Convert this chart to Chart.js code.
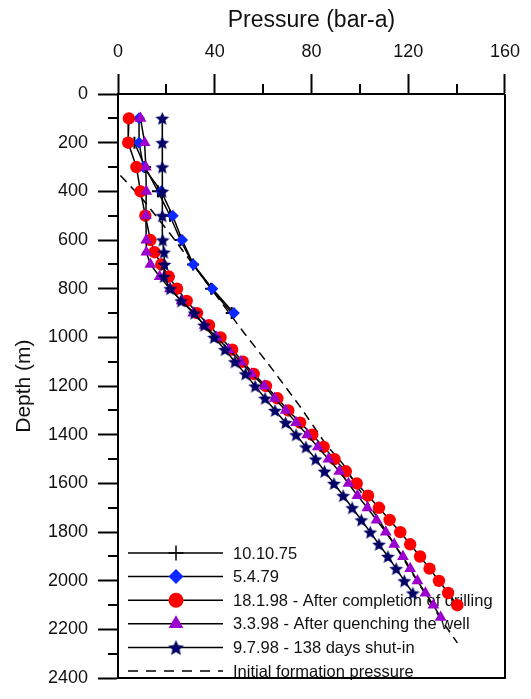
<!DOCTYPE html>
<html>
<head>
<meta charset="utf-8">
<script src="https://cdn.jsdelivr.net/npm/chart.js@4.4.1/dist/chart.umd.min.js"></script>
<style>
  html, body { margin: 0; padding: 0; background: #fff; }
  canvas { display: block; }
</style>
</head>
<body>
<canvas id="chart" width="531" height="699"></canvas>
<script>
// Well pressure surveys: depth (m) and pressure (bar-a)
const depth1975 = [200, 300, 400, 500, 600, 700, 800, 900];
const pres1975  = [6.8, 11.2, 16.5, 21.5, 25.8, 31.0, 38.5, 47.0];

const depth1979 = [100, 200, 300, 400, 500, 600, 700, 800, 900];
const pres1979  = [8.7, 8.7, 10.5, 17.9, 22.6, 26.5, 31.2, 39.0, 47.9];

const depthJan98 = [100, 200, 300, 400, 500, 600, 650, 700, 750, 800, 850, 900, 950, 1000,
  1050, 1100, 1150, 1200, 1250, 1300, 1350, 1400, 1450, 1500, 1550, 1600, 1650, 1700,
  1750, 1800, 1850, 1900, 1950, 2000, 2050, 2100];
const presJan98  = [4.5, 4.2, 7.6, 9.3, 11.3, 13.4, 15.1, 17.9, 21.0, 24.4, 28.4, 32.7, 37.6, 42.4,
  47.2, 51.6, 56.1, 61.2, 65.9, 70.4, 75.3, 80.3, 85.0, 89.5, 94.2, 98.7, 103.4, 107.9,
  112.3, 116.7, 120.8, 124.9, 128.8, 132.7, 136.5, 140.3];

const depthMar98 = [100, 200, 300, 400, 500, 600, 650, 700, 750, 800, 850, 900, 950, 1000,
  1050, 1100, 1150, 1200, 1250, 1300, 1350, 1400, 1450, 1500, 1550, 1600, 1650, 1700,
  1750, 1800, 1850, 1900, 1950, 2000, 2050, 2100, 2150];
const presMar98  = [9.3, 11.0, 11.5, 11.7, 11.5, 11.7, 11.7, 13.4, 17.2, 21.5, 26.3, 31.1, 35.8, 40.8,
  45.7, 50.8, 55.2, 60.5, 64.8, 69.3, 73.6, 78.2, 82.6, 87.0, 91.5, 95.3, 99.0, 103.1,
  106.9, 110.7, 114.2, 117.8, 120.8, 123.8, 127.1, 130.4, 133.4];

const depthJul98 = [100, 200, 300, 400, 500, 600, 650, 700, 750, 800, 850, 900, 950, 1000,
  1050, 1100, 1150, 1200, 1250, 1300, 1350, 1400, 1450, 1500, 1550, 1600, 1650, 1700,
  1750, 1800, 1850, 1900, 1950, 2000, 2050];
const presJul98  = [18.3, 18.3, 18.3, 18.3, 18.3, 18.5, 19.0, 19.2, 19.0, 21.6, 26.1, 31.6, 35.6, 39.7,
  44.2, 48.3, 52.7, 56.7, 60.8, 64.9, 69.3, 73.6, 77.7, 81.7, 85.4, 89.3, 93.1, 96.8,
  100.6, 104.3, 107.9, 111.6, 115.0, 118.4, 121.9];

const depthInit = [335, 430, 580, 740, 980, 1120, 1280, 1440, 1520, 1830, 2150, 2255];
const presInit  = [1.0, 10, 22, 34, 52, 63, 75, 86, 93, 113, 133, 140.3];

const seriesLabels = [
  '10.10.75',
  '5.4.79',
  '18.1.98 - After completion of drilling',
  '3.3.98 - After quenching the well',
  '9.7.98 - 138 days shut-in',
  'Initial formation pressure'
];

const pressureTicks = [0, 40, 80, 120, 160];
const depthTicks = [0, 200, 400, 600, 800, 1000, 1200, 1400, 1600, 1800, 2000, 2200, 2400];

const FONT = "'Liberation Sans', Arial, Helvetica, sans-serif";

function pts(depths, pres) {
  return depths.map((d, i) => ({ x: pres[i], y: d }));
}

// filled five-point star used as a point style
function makeStar(R, color) {
  const pad = 2;
  const c = document.createElement('canvas');
  c.width = c.height = Math.ceil(2 * R + 2 * pad);
  const g = c.getContext('2d');
  const cx = c.width / 2, cy = c.height / 2 + R * 0.1;
  const r = R * 0.45;
  g.beginPath();
  for (let k = 0; k < 10; k++) {
    const a = -Math.PI / 2 + k * Math.PI / 5;
    const rad = k % 2 === 0 ? R : r;
    g.lineTo(cx + Math.cos(a) * rad, cy + Math.sin(a) * rad);
  }
  g.closePath();
  g.fillStyle = color;
  g.fill();
  return c;
}

const NAVY = '#000066';
const starSmall = makeStar(7.2, NAVY);
const starLarge = makeStar(8.4, NAVY);

const datasets = [
  {
    label: seriesLabels[0], data: pts(depth1975, pres1975), order: 4,
    pointStyle: 'cross', pointRadius: 6, pointBorderWidth: 2,
    pointBorderColor: '#000', pointBackgroundColor: '#000',
    legendRadius: 7.5
  },
  {
    label: seriesLabels[1], data: pts(depth1979, pres1979), order: 3,
    pointStyle: 'rectRot', pointRadius: 6, pointBorderWidth: 0,
    pointBorderColor: '#0a28ff', pointBackgroundColor: '#0a28ff',
    legendRadius: 7.5
  },
  {
    label: seriesLabels[2], data: pts(depthJan98, presJan98), order: 2,
    pointStyle: 'circle', pointRadius: 6.2, pointBorderWidth: 0,
    pointBorderColor: '#ff0000', pointBackgroundColor: '#ff0000',
    legendRadius: 7.5
  },
  {
    label: seriesLabels[3], data: pts(depthMar98, presMar98), order: 1,
    pointStyle: 'triangle', pointRadius: 6.8, pointBorderWidth: 0,
    pointBorderColor: '#9b00cc', pointBackgroundColor: '#9b00cc',
    legendRadius: 8.5
  },
  {
    label: seriesLabels[4], data: pts(depthJul98, presJul98), order: 0,
    pointStyle: starSmall, pointRadius: 6, pointBorderWidth: 0,
    pointBorderColor: NAVY, pointBackgroundColor: NAVY,
    legendStyle: starLarge
  },
  {
    label: seriesLabels[5], data: pts(depthInit, presInit), order: 5,
    borderDash: [9, 6], pointRadius: 0
  }
];
datasets.forEach(ds => {
  ds.showLine = true;
  ds.borderColor = '#000';
  ds.borderWidth = 1.5;
  ds.fill = false;
  ds.pointHoverRadius = ds.pointRadius;
});

// legend inside the plot area, under the data marks
const insideLegend = {
  id: 'insideLegend',
  beforeDatasetsDraw(chart) {
    const ctx = chart.ctx;
    const x0 = 128, x1 = 223, mx = 176, tx = 233;
    ctx.save();
    chart.data.datasets.forEach((ds, i) => {
      const y = 553 + i * 23.6;
      ctx.beginPath();
      ctx.lineWidth = 1.5;
      ctx.strokeStyle = '#000';
      ctx.setLineDash(ds.borderDash ? [10, 8] : []);
      ctx.moveTo(x0, y);
      ctx.lineTo(x1, y);
      ctx.stroke();
      ctx.setLineDash([]);
      if (ds.pointRadius > 0) {
        ctx.fillStyle = ds.pointBackgroundColor;
        ctx.strokeStyle = ds.pointBorderColor;
        Chart.helpers.drawPoint(ctx, {
          pointStyle: ds.legendStyle || ds.pointStyle,
          radius: ds.legendRadius || ds.pointRadius,
          rotation: 0,
          borderWidth: ds.pointBorderWidth
        }, mx, y);
      }
      ctx.fillStyle = '#111';
      ctx.font = '16.5px ' + FONT;
      ctx.textAlign = 'left';
      ctx.textBaseline = 'middle';
      ctx.fillText(ds.label, tx, y + 1);
    });
    ctx.restore();
  }
};

// minor ticks and the right/bottom sides of the frame
const frame = {
  id: 'frame',
  afterDraw(chart) {
    const ctx = chart.ctx;
    const { left, right, top, bottom } = chart.chartArea;
    const xs = chart.scales.x, ys = chart.scales.y;
    ctx.save();
    ctx.strokeStyle = '#000';
    ctx.lineWidth = 2;
    ctx.beginPath();
    for (let v = 20; v < 160; v += 40) {
      const px = Math.round(xs.getPixelForValue(v));
      ctx.moveTo(px, top);
      ctx.lineTo(px, top - 10);
    }
    for (let v = 100; v < 2400; v += 200) {
      const py = Math.round(ys.getPixelForValue(v));
      ctx.moveTo(left, py);
      ctx.lineTo(left - 10, py);
    }
    ctx.moveTo(Math.round(right), top);
    ctx.lineTo(Math.round(right), Math.round(bottom) + 1);
    ctx.moveTo(left, Math.round(bottom));
    ctx.lineTo(Math.round(right) + 1, Math.round(bottom));
    ctx.stroke();
    ctx.restore();
  }
};

new Chart(document.getElementById('chart'), {
  type: 'scatter',
  data: { datasets: datasets },
  plugins: [insideLegend, frame],
  options: {
    responsive: false,
    animation: false,
    layout: { padding: { left: 0, top: 0, right: 22, bottom: 11 } },
    plugins: {
      legend: { display: false },
      tooltip: { enabled: false }
    },
    scales: {
      x: {
        type: 'linear',
        position: 'top',
        min: 0, max: 160,
        afterFit: s => { s.height = 94; },
        afterBuildTicks: s => { s.ticks = pressureTicks.map(v => ({ value: v })); },
        grid: { drawOnChartArea: false, tickLength: 20, tickWidth: 2, tickColor: '#000' },
        border: { display: true, color: '#000', width: 2 },
        ticks: {
          color: '#111', padding: 11, maxRotation: 0,
          font: { family: FONT, size: 18 },
          callback: v => String(v)
        },
        title: {
          display: true, text: 'Pressure (bar-a)', color: '#111',
          padding: { top: 7, bottom: 0 }, font: { family: FONT, size: 23 }
        }
      },
      y: {
        type: 'linear',
        reverse: true,
        min: 0, max: 2400,
        afterFit: s => { s.width = 118; },
        afterBuildTicks: s => { s.ticks = depthTicks.map(v => ({ value: v })); },
        grid: { drawOnChartArea: false, tickLength: 20, tickWidth: 2, tickColor: '#000' },
        border: { display: true, color: '#000', width: 2 },
        ticks: {
          color: '#111', padding: 10,
          font: { family: FONT, size: 18 },
          callback: v => String(v)
        },
        title: {
          display: true, text: 'Depth (m)', color: '#111',
          padding: { top: 12, bottom: 0 }, font: { family: FONT, size: 21 }
        }
      }
    }
  }
});
</script>
</body>
</html>
